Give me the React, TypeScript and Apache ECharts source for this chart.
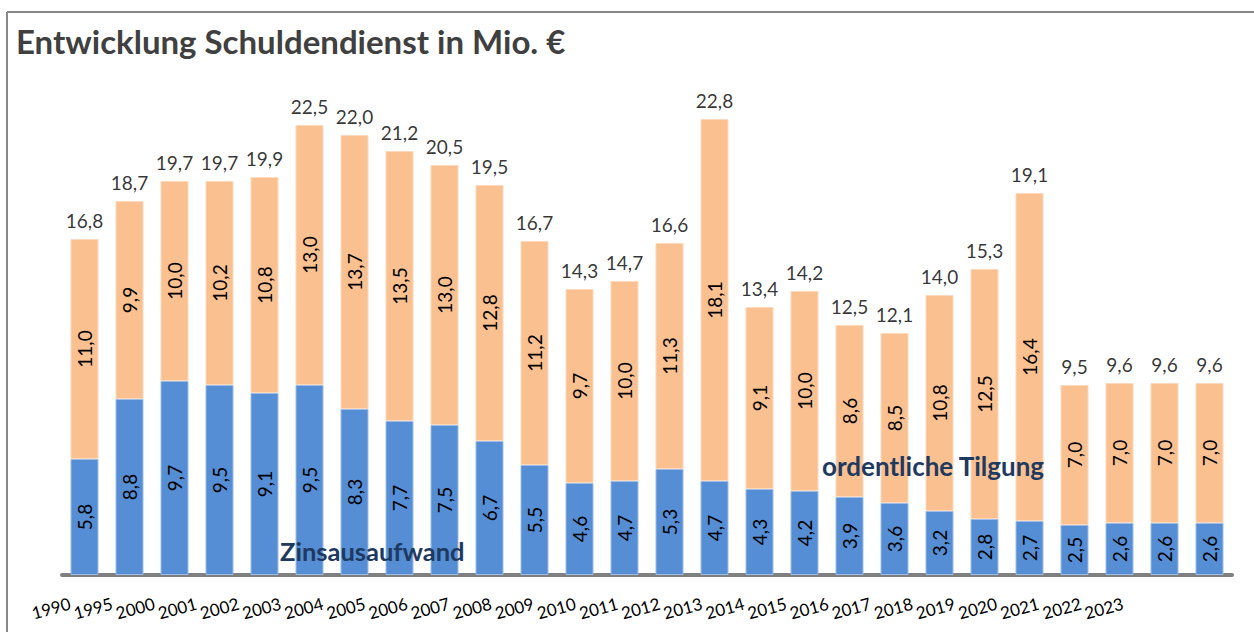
import React, { useEffect, useRef } from "react";
import * as echarts from "echarts";

const years = ["1990","1995","2000","2001","2002","2003","2004","2005","2006","2007","2008","2009","2010","2011","2012","2013","2014","2015","2016","2017","2018","2019","2020","2021","2022","2023"];
const zinsaufwand = [5.8,8.8,9.7,9.5,9.1,9.5,8.3,7.7,7.5,6.7,5.5,4.6,4.7,5.3,4.7,4.3,4.2,3.9,3.6,3.2,2.8,2.7,2.5,2.6,2.6,2.6];
const tilgung = [11.0,9.9,10.0,10.2,10.8,13.0,13.7,13.5,13.0,12.8,11.2,9.7,10.0,11.3,18.1,9.1,10.0,8.6,8.5,10.8,12.5,16.4,7.0,7.0,7.0,7.0];
const gesamt = [16.8,18.7,19.7,19.7,19.9,22.5,22.0,21.2,20.5,19.5,16.7,14.3,14.7,16.6,22.8,13.4,14.2,12.5,12.1,14.0,15.3,19.1,9.5,9.6,9.6,9.6];

const fmt = (v: number) => v.toFixed(1).replace(".", ",");
const FONT = "Lato, 'Open Sans', sans-serif";

export default function App() {
  const ref = useRef<HTMLDivElement>(null);
  useEffect(() => {
    document.body.style.margin = "0";
    const chart = echarts.init(ref.current!, null, { renderer: "svg" });
    const insideLabel = {
      show: true,
      position: "inside",
      rotate: 90,
      fontSize: 19,
      fontFamily: FONT,
      color: "#000",
      formatter: (p: any) => fmt(p.value),
    };
    chart.setOption({
      animation: false,
      backgroundColor: "#fff",
      textStyle: { fontFamily: FONT },
      title: {
        text: "Entwicklung Schuldendienst in Mio. €",
        left: 11,
        top: 19,
        textStyle: { fontFamily: FONT, fontWeight: "bold", fontSize: 33, color: "#404040" },
      },
      graphic: [
        { type: "line", shape: { x1: 7, y1: 12, x2: 1254, y2: 12 }, style: { stroke: "#888", lineWidth: 2 } },
        { type: "line", shape: { x1: 7, y1: 12, x2: 7, y2: 632 }, style: { stroke: "#888", lineWidth: 2 } },
        {
          type: "text", left: 280, top: 538, z: 100,
          style: { text: "Zinsausaufwand", fontFamily: FONT, fontWeight: "bold", fontSize: 25.5, fill: "#1F3A60" },
        },
        {
          type: "text", left: 822, top: 453, z: 100,
          style: { text: "ordentliche Tilgung", fontFamily: FONT, fontWeight: "bold", fontSize: 26, fill: "#1F3A60" },
        },
      ],
      grid: [
        { left: 62, right: 22, top: 75, bottom: 57 },
        { left: 49, right: 110, top: 75, bottom: 57 },
      ],
      xAxis: [
        {
          type: "category", data: years, gridIndex: 0,
          axisLine: { show: true, lineStyle: { color: "#808080", width: 4 } },
          axisTick: { show: false },
          axisLabel: { show: false },
        },
        {
          type: "category", data: years, gridIndex: 1,
          axisLine: { show: false },
          axisTick: { show: false },
          axisLabel: { show: true, interval: 0, rotate: 15, margin: 28, fontSize: 17, fontFamily: FONT, color: "#000" },
        },
      ],
      yAxis: [
        { type: "value", min: 0, max: 25, gridIndex: 0, show: false, splitLine: { show: false } },
        { type: "value", min: 0, max: 25, gridIndex: 1, show: false, splitLine: { show: false } },
      ],
      series: [
        {
          name: "Zinsausaufwand", type: "bar", stack: "s", data: zinsaufwand, barWidth: 28,
          itemStyle: { color: "#558ED5", borderColor: "#9DBCE6", borderWidth: 1 },
          label: insideLabel,
        },
        {
          name: "ordentliche Tilgung", type: "bar", stack: "s", data: tilgung, barWidth: 28,
          itemStyle: { color: "#FAC090", borderColor: "#FCD9BC", borderWidth: 1 },
          label: insideLabel,
        },
        {
          name: "Gesamt", type: "scatter", data: gesamt, symbolSize: 1,
          itemStyle: { color: "rgba(0,0,0,0)" },
          label: {
            show: true, position: "top", distance: 9, fontSize: 19, fontFamily: FONT, color: "#000",
            formatter: (p: any) => fmt(p.value),
          },
          z: 10,
        },
      ],
    });
    return () => chart.dispose();
  }, []);
  return <div ref={ref} style={{ width: 1254, height: 632 }} />;
}
